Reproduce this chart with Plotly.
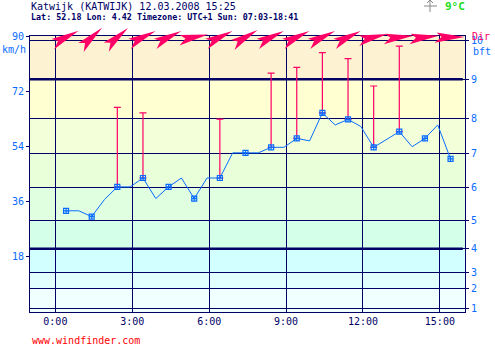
import math
import plotly.graph_objects as go

# ---------------- data ----------------
times = ["00:25", "00:55", "01:25", "01:55", "02:25", "02:55", "03:25", "03:55",
         "04:25", "04:55", "05:25", "05:55", "06:25", "06:55", "07:25", "07:55",
         "08:25", "08:55", "09:25", "09:55", "10:25", "10:55", "11:25", "11:55",
         "12:25", "12:55", "13:25", "13:55", "14:25", "14:55", "15:25"]
speed_kmh = [33.0, 33.0, 31.1, 36.7, 40.8, 40.8, 43.7, 37.0,
             40.8, 43.7, 37.0, 43.7, 43.7, 51.9, 51.9, 51.9,
             53.7, 53.7, 56.6, 55.8, 64.9, 61.0, 62.8, 60.5,
             53.7, 56.3, 58.8, 53.9, 56.6, 61.0, 49.9]

gust_times = ["02:25", "03:25", "06:25", "08:25", "09:25", "10:25", "11:25", "12:25", "13:25"]
gust_kmh = [66.7, 64.9, 62.9, 77.9, 79.8, 84.6, 82.6, 73.7, 86.7]

dir_times = ["00:25", "01:25", "02:25", "03:25", "04:25", "05:25", "06:25", "07:25",
             "08:25", "09:25", "10:25", "11:25", "12:25", "13:25", "14:25", "15:25"]
wind_dir_deg = [244, 228, 230, 245, 245, 260, 245, 240, 245, 245, 245, 245, 258, 265, 265, 270]

x_ticks = [0, 3, 6, 9, 12, 15]
x_ticktext = ["0:00", "3:00", "6:00", "9:00", "12:00", "15:00"]
kmh_ticks = [18, 36, 54, 72, 90]
bft_bounds = [1.2, 7.8, 12.8, 20.6, 29.7, 40.7, 51.8, 63.0, 75.9, 88.6]
bft_labels = ["1", "2", "3", "4", "5", "6", "7", "8", "9", "10"]
band_colors = ["#F0FFFF", "#F0FFFF", "#E2FFFF", "#D2FFFF", "#D4FFE8", "#E0FFE0",
               "#E9FFDA", "#F2FFD8", "#FFFFD2", "#FDF3D2"]

# ---------------- helpers ----------------
def hours(s):
    h, m = s.split(":")
    return int(h) + int(m) / 60.0

L, R, T, B = 30, 30, 36, 36
W, H = 495, 348
PW, PH = W - L - R, H - T - B

def px(x):
    return (x - L) / PW

def py(y):
    return (H - B - y) / PH

NAVY = "#000066"
BLUE = "#0A6CFF"
RED = "#FF0066"
FONT = "DejaVu Sans Mono"

tx = [hours(t) for t in times]
marker_idx = [i for i, t in enumerate(times) if t.endswith(":25")]
mx = [tx[i] for i in marker_idx]
my = [speed_kmh[i] for i in marker_idx]
spd_at = dict(zip(times, speed_kmh))
gx = [hours(t) for t in gust_times]
gy = [spd_at[t] for t in gust_times]
gerr = [g - s for g, s in zip(gust_kmh, gy)]

fig = go.Figure()

# gusts
fig.add_trace(go.Scatter(
    x=gx, y=gy, mode="markers",
    marker=dict(size=1, color="rgba(0,0,0,0)"),
    error_y=dict(type="data", symmetric=False, array=gerr, arrayminus=[0] * len(gerr),
                 color=RED, thickness=1.2, width=3.5),
    showlegend=False, hoverinfo="skip"))

# wind speed line
fig.add_trace(go.Scatter(
    x=tx, y=speed_kmh, mode="lines", line=dict(color=BLUE, width=1),
    showlegend=False))
fig.add_trace(go.Scatter(
    x=mx, y=my, mode="markers",
    marker=dict(symbol="square-cross-open", size=5, color=BLUE, line=dict(width=1.2, color=BLUE)),
    showlegend=False))

# dummy trace for right axis
fig.add_trace(go.Scatter(x=[0], y=[0], yaxis="y2", mode="markers",
                         marker=dict(opacity=0), showlegend=False, hoverinfo="skip"))

shapes = []
# background bands
edges = [0] + bft_bounds[:-1] + [90]
for i, c in enumerate(band_colors):
    shapes.append(dict(type="rect", xref="paper", yref="y", x0=0, x1=1,
                       y0=edges[i], y1=edges[i + 1], fillcolor=c, line=dict(width=0),
                       layer="below"))
# thick bft 4 and 9 lines
for b in (bft_bounds[3], bft_bounds[8]):
    shapes.append(dict(type="line", xref="paper", yref="y", x0=0, x1=0.995, y0=b, y1=b,
                       line=dict(color=NAVY, width=2.5), layer="between"))

# direction arrows (pixel-sized shapes)
AL, AW = 28, 4.5
for t, d in zip(dir_times, wind_dir_deg):
    a = math.radians(270 - d)
    ux, uy = math.cos(a), math.sin(a)
    nx, ny = -uy, ux
    pts = [
        (ux * AL / 2, uy * AL / 2),
        (-ux * AL / 2 + nx * AW, -uy * AL / 2 + ny * AW),
        (-ux * AL * 0.32, -uy * AL * 0.32),
        (-ux * AL / 2 - nx * AW * 1.3 - ux * 2, -uy * AL / 2 - ny * AW * 1.3 - uy * 2),
    ]
    path = "M " + " L ".join(f"{p[0]:.2f},{p[1]:.2f}" for p in pts) + " Z"
    shapes.append(dict(type="path", xref="x", yref="paper", xsizemode="pixel",
                       ysizemode="pixel", xanchor=hours(t), yanchor=py(37), path=path,
                       fillcolor=RED, line=dict(width=0), layer="above"))

# compass icon
shapes.append(dict(type="line", xref="paper", yref="paper", x0=px(430), x1=px(430),
                   y0=py(12), y1=py(0), line=dict(color="#888888", width=1)))
shapes.append(dict(type="line", xref="paper", yref="paper", x0=px(424), x1=px(437),
                   y0=py(6), y1=py(6), line=dict(color="#888888", width=1)))
shapes.append(dict(type="path", xref="paper", yref="paper",
                   path=f"M {px(427)},{py(3)} L {px(430)},{py(0)} L {px(433)},{py(3)}",
                   line=dict(color="#888888", width=1)))

ann = [
    dict(text="Katwijk (KATWIJK) 12.03.2008 15:25", x=px(29), y=py(7), xanchor="left",
         yanchor="middle", font=dict(family=FONT, size=10, color=NAVY)),
    dict(text="<b>Lat: 52.18 Lon: 4.42 Timezone: UTC+1 Sun: 07:03-18:41</b>", x=px(29), y=py(17),
         xanchor="left", yanchor="middle", font=dict(family=FONT, size=8.4, color=NAVY)),
    dict(text="<b>9°C</b>", x=px(443), y=py(7), xanchor="left", yanchor="middle",
         font=dict(family=FONT, size=11, color="#22DD22")),
    dict(text="www.windfinder.com", x=px(30), y=py(340), xanchor="left", yanchor="middle",
         font=dict(family=FONT, size=10, color="#FF0000")),
    dict(text="km/h", x=px(0), y=py(49), xanchor="left", yanchor="middle",
         font=dict(family=FONT, size=10, color=BLUE)),
    dict(text="Dir", x=px(470), y=py(36), xanchor="left", yanchor="middle",
         font=dict(family=FONT, size=10, color=RED)),
    dict(text="bft", x=px(471), y=py(51), xanchor="left", yanchor="middle",
         font=dict(family=FONT, size=10, color=BLUE)),
]
for a in ann:
    a.update(xref="paper", yref="paper", showarrow=False)

fig.update_layout(
    width=W, height=H, margin=dict(l=L, r=R, t=T, b=B, pad=0),
    paper_bgcolor="white", plot_bgcolor="white",
    font=dict(family=FONT, size=10, color=NAVY),
    xaxis=dict(range=[-0.99, 15.98], tickvals=x_ticks, ticktext=x_ticktext,
               showgrid=True, gridcolor=NAVY, gridwidth=1, zeroline=False,
               showline=True, linecolor=NAVY, linewidth=1, mirror=True, ticks="",
               tickfont=dict(family=FONT, size=10, color=NAVY)),
    yaxis=dict(range=[0, 90], tickvals=kmh_ticks, showgrid=False, zeroline=False,
               showline=True, linecolor=NAVY, linewidth=1, ticks="outside", ticklen=3,
               tickcolor=NAVY, tickfont=dict(family=FONT, size=10, color=BLUE)),
    yaxis2=dict(range=[0, 90], overlaying="y", side="right", tickvals=bft_bounds,
                ticktext=bft_labels, showgrid=True, gridcolor=NAVY, gridwidth=1,
                zeroline=False, showline=True, linecolor=NAVY, linewidth=1, ticks="outside",
                ticklen=3, tickcolor=NAVY, tickfont=dict(family=FONT, size=10, color=BLUE)),
    shapes=shapes, annotations=ann, showlegend=False,
)

fig.write_html("out.html", config={"displayModeBar": False},
               post_script="document.body.style.margin='0';")
